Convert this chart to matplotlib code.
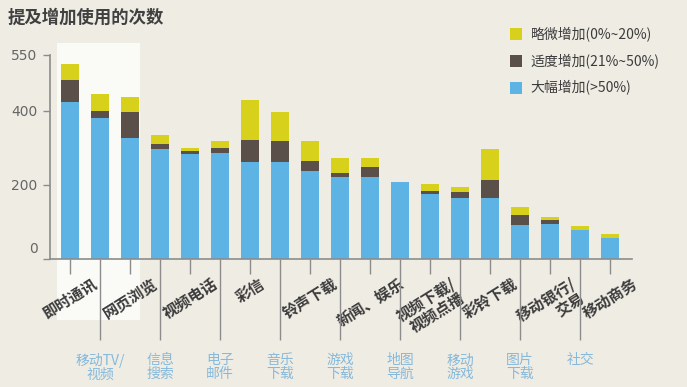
import matplotlib.pyplot as plt
import matplotlib.transforms as mtransforms
from matplotlib.patches import Rectangle
import numpy as np

plt.rcParams['font.family'] = ['Noto Sans CJK SC', 'DejaVu Sans']

# 19 categories, left to right
labels_black = ['即时通讯', '网页浏览', '视频电话', '彩信', '铃声下载',
                '新闻、娱乐', '视频下载/\n视频点播', '彩铃下载', '移动银行/\n交易', '移动商务']
labels_blue = ['移动TV/\n视频', '信息\n搜索', '电子\n邮件', '音乐\n下载', '游戏\n下载',
               '地图\n导航', '移动\n游戏', '图片\n下载', '社交']

large = [423, 381, 326, 297, 283, 287, 262, 261, 238, 222, 222, 208, 176, 164, 164, 93, 94, 78, 56]
moderate = [59, 19, 71, 14, 9, 12, 60, 58, 27, 11, 25, 0, 8, 16, 49, 26, 11, 0, 0]
slight = [43, 46, 40, 22, 8, 18, 106, 78, 54, 40, 26, 0, 17, 13, 83, 21, 9, 11, 11]

series_names = ['略微增加(0%~20%)', '适度增加(21%~50%)', '大幅增加(>50%)']
c_yellow = '#d8d11c'
c_dark = '#5a5049'
c_blue = '#5db3e3'
bg = '#efece4'

fig = plt.figure(figsize=(6.87, 3.87), dpi=100, facecolor=bg)
ax = fig.add_axes([50 / 687, 1 - 259 / 387, 582 / 687, 204 / 387])
ax.patch.set_visible(False)

# pale scan highlight behind the first bars
ax.add_patch(Rectangle((57 / 687, 1 - 320 / 387), 83 / 687, 277 / 387,
                       transform=fig.transFigure, facecolor='#fafaf7',
                       edgecolor='none', zorder=0, clip_on=False))

x = np.arange(len(large))
w = 0.62
large = np.array(large)
moderate = np.array(moderate)
slight = np.array(slight)
b1 = ax.bar(x, large, w, color=c_blue, zorder=2)
b2 = ax.bar(x, moderate, w, bottom=large, color=c_dark, zorder=2)
b3 = ax.bar(x, slight, w, bottom=large + moderate, color=c_yellow, zorder=2)

ax.set_xlim(-0.667, 18.73)
ax.set_ylim(0, 550)

for s in ['top', 'right']:
    ax.spines[s].set_visible(False)
for s in ['left', 'bottom']:
    ax.spines[s].set_color('#8c8c8c')
    ax.spines[s].set_linewidth(1.2)

ax.set_yticks([0, 200, 400, 550])
ax.set_yticklabels(['0', '200', '400', '550'])
ax.tick_params(axis='y', length=5, width=1, color='#8c8c8c', pad=4,
               labelsize=10, labelcolor='#666666')
for t in ax.get_yticklabels():
    t.set_family('DejaVu Sans')
zero = ax.get_yticklabels()[0]
zero.set_transform(zero.get_transform() +
                   mtransforms.ScaledTranslation(0, 8 / 72, fig.dpi_scale_trans))

ax.set_xticks(x[0::2])
ax.set_xticklabels(labels_black, rotation=32, ha='center', fontsize=11,
                   fontweight='bold', color='#3c3c3c', linespacing=1.0,
                   multialignment='right')
ax.set_xticks(x[1::2], minor=True)
ax.set_xticklabels(labels_blue, minor=True, fontsize=10, color='#86b9da',
                   linespacing=0.95)
ax.tick_params(axis='x', which='major', length=11, width=1, color='#8c8c8c', pad=1)
ax.tick_params(axis='x', which='minor', length=58, width=1, color='#8c8c8c', pad=10)

fig.text(8 / 687, 1 - 18 / 387, '提及增加使用的次数', fontsize=12.5, fontweight='bold',
         color='#404040', va='center')

fig.legend([b3, b2, b1], series_names, loc='upper left',
           bbox_to_anchor=(503 / 687, 1 - 20 / 387), frameon=False,
           fontsize=10, handlelength=0.9, handleheight=0.9, handletextpad=0.6,
           labelspacing=0.85, borderpad=0, labelcolor='#3c3c3c')

fig.savefig('out.png', dpi=100, facecolor=bg)
